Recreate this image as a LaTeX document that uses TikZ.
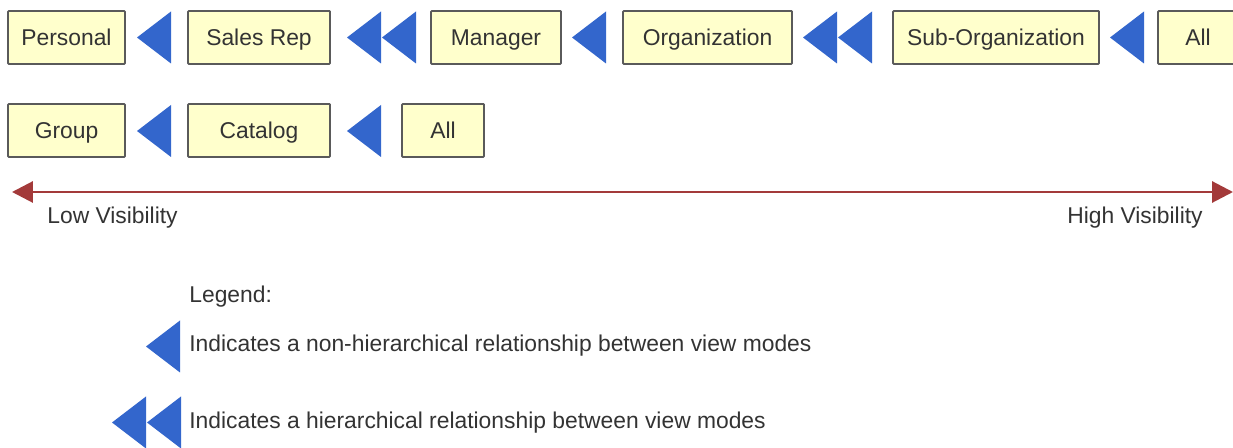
\documentclass[tikz,border=0pt]{standalone}
\usepackage{fontspec}
\setmainfont{Liberation Sans}
\usepackage{tikz}
\usetikzlibrary{positioning,arrows.meta,calc}

\definecolor{boxfill}{HTML}{FFFFCC}
\definecolor{boxline}{HTML}{5A5A5A}
\definecolor{triblue}{HTML}{3366CC}
\definecolor{visred}{HTML}{A33A3A}
\definecolor{txtgray}{HTML}{333333}

\tikzset{
  viewbox/.style={draw=boxline, fill=boxfill, line width=1.1pt, rounded corners=0.5pt},
  boxtext/.style={inner sep=0pt, text height=0.72em, text depth=0pt, text=txtgray},
  legtext/.style={inner sep=0pt, anchor=west, text height=0.72em, text depth=0pt, text=txtgray},
  tri/.style={fill=triblue},
  visarrow/.style={draw=visred, line width=1.7pt, {Triangle[length=0.42cm,width=0.42cm]}-{Triangle[length=0.42cm,width=0.42cm]}}
}

\begin{document}
\fontsize{13}{15.5}\selectfont
\begin{tikzpicture}[x=0.02cm,y=-0.02cm]
  \useasboundingbox (0,0) rectangle (1233,448);

  % view mode boxes, row 1 and row 2
  \foreach \name/\xa/\xb/\ya/\txt in {personal/8/125/11/Personal, salesrep/188/330/11/Sales Rep,
      manager/431/561/11/Manager, organization/623/792/11/Organization,
      suborg/893/1099/11/Sub-Organization, allone/1158/1238/11/All,
      group/8/125/104/Group, catalog/188/330/104/Catalog, alltwo/402/484/104/All} {
  \draw[viewbox] (\xa,\ya) rectangle (\xb,\ya+53);
  \node[boxtext] (\name) at ({(\xa+\xb)/2},\ya+26) {\txt};
  }

  % single triangles
  \foreach \x/\y in {137/37.5, 572/37.5, 1110/37.5, 137/131, 347/131, 146/346.5} {
  \fill[tri] (\x,\y) -- (\x+34,\y-26) -- (\x+34,\y+26) -- cycle;
  }

  % double triangles
  \foreach \x/\y in {347/37.5, 803/37.5, 112/422.5} {
  \fill[tri] (\x,\y) -- (\x+34,\y-26) -- (\x+34,\y+26) -- cycle;
  \fill[tri] (\x+35,\y) -- (\x+69,\y-26) -- (\x+69,\y+26) -- cycle;
  }

  % visibility scale
  \coordinate (lowend) at (12,192);
  \coordinate (highend) at (1233,192);
  \draw[visarrow] (lowend) -- (highend);
  \node[legtext] (lowvis) at (47,215) {Low Visibility};
  \node[legtext, anchor=east] (highvis) at (1203,215) {High Visibility};

  % legend
  \node[legtext] (legend) at (189,294) {Legend:};
  \node[legtext] (nonhier) at (189,343) {Indicates a non-hierarchical relationship between view modes};
  \node[legtext] (hier) at (189,420) {Indicates a hierarchical relationship between view modes};
\end{tikzpicture}
\end{document}
